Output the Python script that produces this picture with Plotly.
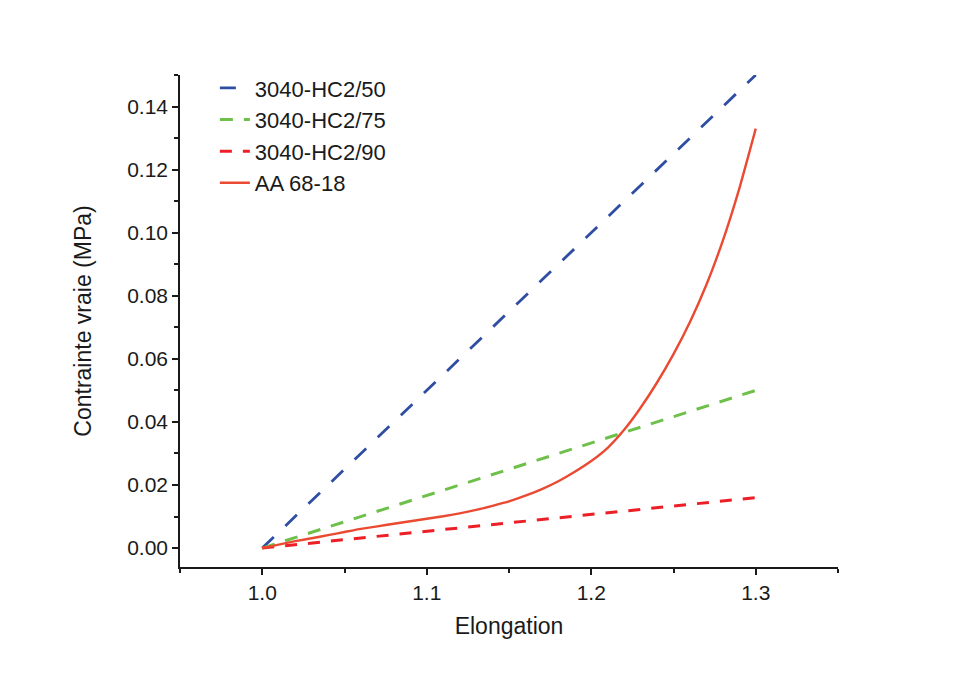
import plotly.graph_objects as go

# Data
elong_lin = [1.0, 1.3]
hc50 = [0.0, 0.15]
hc75 = [0.0, 0.05]
hc90 = [0.0, 0.016]

elong_aa = [1.00, 1.01, 1.02, 1.03, 1.04, 1.05, 1.06, 1.07, 1.08, 1.09, 1.10,
            1.11, 1.12, 1.13, 1.14, 1.15, 1.16, 1.17, 1.18, 1.19, 1.20,
            1.21, 1.22, 1.23, 1.24, 1.25, 1.26, 1.27, 1.28, 1.29, 1.30]
aa6818 = [0.0, 0.0011, 0.0022, 0.0031, 0.0041, 0.0051, 0.0061, 0.0069, 0.0077, 0.0085, 0.0093,
          0.0101, 0.0110, 0.0121, 0.0134, 0.0148, 0.0166, 0.0187, 0.0212, 0.0242, 0.0276,
          0.0318, 0.0375, 0.0445, 0.0525, 0.0615, 0.0717, 0.0835, 0.0975, 0.1140, 0.1330]

names = ["3040-HC2/50", "3040-HC2/75", "3040-HC2/90", "AA 68-18"]

fig = go.Figure()
fig.add_trace(go.Scatter(x=elong_lin, y=hc50, mode="lines", name=names[0],
                         line=dict(color="#2f4ea3", width=2.8, dash="16px,16px")))
fig.add_trace(go.Scatter(x=elong_lin, y=hc75, mode="lines", name=names[1],
                         line=dict(color="#6ec04a", width=3, dash="13px,11px")))
fig.add_trace(go.Scatter(x=elong_lin, y=hc90, mode="lines", name=names[2],
                         line=dict(color="#ec1f26", width=3, dash="12px,11px")))
fig.add_trace(go.Scatter(x=elong_aa, y=aa6818, mode="lines", name=names[3],
                         line=dict(color="#ea4a32", width=2.4, shape="spline", smoothing=0.5)))

FONT = "Liberation Sans, Arial, sans-serif"
axis_common = dict(
    showline=True, linecolor="#1a1a1a", linewidth=1.5, showgrid=False, zeroline=False,
    ticks="outside", ticklen=6, tickwidth=1.5, tickcolor="#1a1a1a",
    tickfont=dict(family=FONT, size=21, color="#1a1a1a"),
    mirror=False,
)

fig.update_layout(
    width=956, height=675,
    paper_bgcolor="white", plot_bgcolor="white",
    margin=dict(l=172, r=126, t=67, b=116),
    font=dict(family=FONT, color="#1a1a1a"),
    xaxis=dict(range=[0.95, 1.35], tickvals=[1.0, 1.1, 1.2, 1.3],
               ticktext=["1.0", "1.1", "1.2", "1.3"],
               minor=dict(ticks="outside", ticklen=4, tickwidth=1.5, tickcolor="#1a1a1a", dtick=0.05, tick0=0.95),
               title=dict(text="Elongation", font=dict(size=23), standoff=15),
               **axis_common),
    yaxis=dict(range=[-0.006, 0.15], tickvals=[0, 0.02, 0.04, 0.06, 0.08, 0.10, 0.12, 0.14],
               tickformat=".2f",
               minor=dict(ticks="outside", ticklen=4, tickwidth=1.5, tickcolor="#1a1a1a", dtick=0.01, tick0=0),
               title=dict(text="Contrainte vraie (MPa)", font=dict(size=23), standoff=29),
               **axis_common),
    legend=dict(x=0.053, y=1.016, xanchor="left", yanchor="top",
                bgcolor="rgba(0,0,0,0)", font=dict(size=22, color="#1a1a1a"),
                tracegroupgap=0),
    showlegend=True,
)

fig.write_html("out.html")
